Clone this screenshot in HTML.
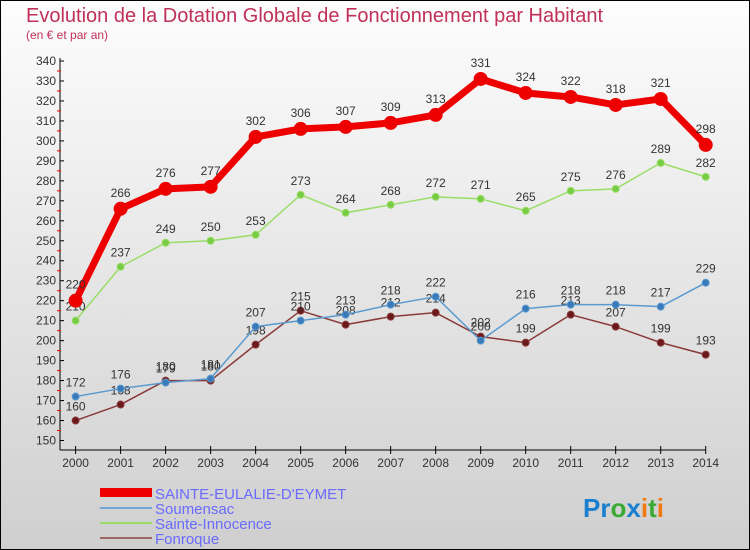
<!DOCTYPE html>
<html><head><meta charset="utf-8"><style>
body{margin:0;width:750px;height:550px;overflow:hidden}
svg{display:block;font-family:"Liberation Sans",sans-serif}
</style></head><body>
<svg id="c" width="750" height="550">
<defs><linearGradient id="bg" x1="0" y1="0" x2="0" y2="1"><stop offset="0" stop-color="#fdfdfd"/><stop offset="1" stop-color="#cfcfcf"/></linearGradient></defs>
<rect x="0.5" y="0.5" width="749" height="549" fill="url(#bg)" stroke="#000"/>
<text x="26" y="22" font-size="20" fill="#c0305a">Evolution de la Dotation Globale de Fonctionnement par Habitant</text>
<text x="26" y="39" font-size="12" fill="#c0305a">(en € et par an)</text>
<g id="axes"></g><g id="series"></g>
<g>
<rect x="100" y="488" width="52" height="9" fill="#e00"/>
<text x="155" y="499" font-size="15" fill="#6a6aff">SAINTE-EULALIE-D'EYMET</text>
<rect x="100" y="507" width="52" height="2" fill="#6fa8d8"/>
<text x="155" y="514" font-size="15" fill="#6a6aff">Soumensac</text>
<rect x="100" y="522" width="52" height="2" fill="#99dd66"/>
<text x="155" y="529" font-size="15" fill="#6a6aff">Sainte-Innocence</text>
<rect x="100" y="537" width="52" height="2" fill="#a06666"/>
<text x="155" y="544" font-size="15" fill="#6a6aff">Fonroque</text>
</g>
<text x="583" y="517" font-size="26" font-weight="bold"><tspan fill="#1a7fd0">Pr</tspan><tspan fill="#3aaa35">o</tspan><tspan fill="#1a7fd0">x</tspan><tspan fill="#f07a10">i</tspan><tspan fill="#3aaa35">t</tspan><tspan fill="#f07a10">i</tspan></text>
</svg>
<script>
const years=[2000,2001,2002,2003,2004,2005,2006,2007,2008,2009,2010,2011,2012,2013,2014];
const yTicks=[150,160,170,180,190,200,210,220,230,240,250,260,270,280,290,300,310,320,330,340];
const sainteEulalie=[220,266,276,277,302,306,307,309,313,331,324,322,318,321,298];
const soumensac=[172,176,179,181,207,210,213,218,222,200,216,218,218,217,229];
const sainteInnocence=[210,237,249,250,253,273,264,268,272,271,265,275,276,289,282];
const fonroque=[160,168,180,180,198,215,208,212,214,202,199,213,207,199,193];
const NS="http://www.w3.org/2000/svg";
const X=i=>75.6+i*(705.7-75.6)/14;
const Y=v=>440.5-(v-150)*(440.5-61)/190;
function mk(p,t,a){const e=document.createElementNS(NS,t);for(const k in a)e.setAttribute(k,a[k]);p.appendChild(e);return e;}
const ax=document.getElementById('axes');
let l=mk(ax,'line',{x1:60,y1:58,x2:60,y2:450,stroke:'#000'});


l=mk(ax,'line',{x1:60,y1:450,x2:706,y2:450,stroke:'#000'});


yTicks.forEach(v=>{
 mk(ax,'line',{x1:60,y1:Y(v),x2:64,y2:Y(v),stroke:'#000'});
 if(v<340)mk(ax,'line',{x1:57,y1:Y(v+5),x2:61,y2:Y(v+5),stroke:'#e00'});
 const t=mk(ax,'text',{x:56,y:Y(v)+4,'font-size':12,'text-anchor':'end',fill:'#333'});t.textContent=v;
 
 
});
years.forEach((y,i)=>{
 mk(ax,'line',{x1:X(i),y1:446,x2:X(i),y2:454,stroke:'#000'});
 const t=mk(ax,'text',{x:X(i),y:467,'font-size':12,'text-anchor':'middle',fill:'#333'});t.textContent=y;
 
 
});
const sg=document.getElementById('series');
function draw(name,vals,col,w,r,dark,lblDy){
 const g=mk(sg,'g',{});
 
 
 const pts=vals.map((v,i)=>X(i)+','+Y(v)).join(' ');
 mk(g,'polyline',{points:pts,fill:'none',stroke:col,'stroke-width':w,'stroke-linejoin':'round'});
 vals.forEach((v,i)=>{
  const c=mk(g,'circle',{cx:X(i),cy:Y(v),r:r,fill:dark,stroke:col,'stroke-width':1});
  
  
  const t=mk(g,'text',{x:X(i),y:Y(v)+lblDy,'font-size':12,'text-anchor':'middle',fill:'#333'});t.textContent=v;
  
  
 });
}
draw('sainte-innocence',sainteInnocence,'#99dd66',1.5,3.5,'#77cc44',-10);
draw('fonroque',fonroque,'#8a3a3a',1.5,3.5,'#6a1a1a',-10);
draw('soumensac',soumensac,'#5a9ad0',1.5,3.5,'#3a7ab8',-10);
draw('sainte-eulalie',sainteEulalie,'#e00',7,6.5,'#e00',-12);
</script>
</body></html>
